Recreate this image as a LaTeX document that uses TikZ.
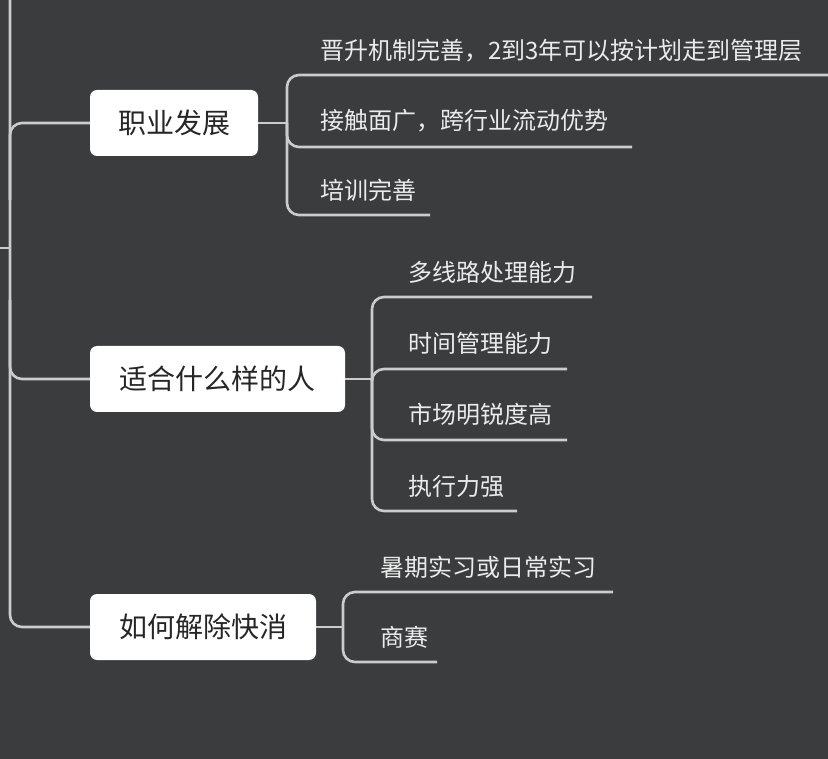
\documentclass[tikz,border=0pt]{standalone}
\usepackage{fontspec}
\setmainfont{Noto Sans CJK SC}
\begin{document}
\begin{tikzpicture}[x=1pt,y=-1pt,
  topic/.style={fill=white,rounded corners=7pt,minimum height=66pt,inner xsep=0pt,font=\fontsize{28}{32}\selectfont,text=black!85},
  leaf/.style={anchor=base west,inner sep=0pt,font=\fontsize{24}{28}\selectfont,text=white!92!black},
  conn/.style={draw=white!80!black,line width=2.6pt,rounded corners=12pt}]
\fill[fill={rgb,255:red,59;green,60;blue,61}] (0,0) rectangle (828,759);
\useasboundingbox (0,0) rectangle (828,759);
% topics
\node[topic,minimum width=168pt] (t1) at (174,123) {职业发展};
\node[topic,minimum width=255pt] (t2) at (217.5,379) {适合什么样的人};
\node[topic,minimum width=226pt] (t3) at (203,627) {如何解除快消};
% trunk
\coordinate (top) at (10,0);
\coordinate (stub) at (0,248);
\draw[conn] (top) -- (10,627) -- (t3.west);
\draw[conn] (10,200) -- (10,123) -- (t1.west);
\draw[conn] (10,300) -- (10,379) -- (t2.west);
\draw[conn] (stub) -- (10,248);
% leaves of t1
\node[leaf] (a1) at (320,60) {晋升机制完善，2到3年可以按计划走到管理层};
\node[leaf] (a2) at (320,130) {接触面广，跨行业流动优势};
\node[leaf] (a3) at (320,200) {培训完善};
\coordinate (a1e) at (828,75); \coordinate (a2e) at (632,147); \coordinate (a3e) at (430,215);
\draw[conn] (t1.east) -- (287,123);
\draw[conn] (287,123) -- (287,75) -- (a1e);
\draw[conn] (287,123) -- (287,147) -- (a2e);
\draw[conn] (287,123) -- (287,215) -- (a3e);
% leaves of t2
\node[leaf] (b1) at (408,282) {多线路处理能力};
\node[leaf] (b2) at (408,353) {时间管理能力};
\node[leaf] (b3) at (408,424) {市场明锐度高};
\node[leaf] (b4) at (408,495) {执行力强};
\coordinate (b1e) at (592,297); \coordinate (b2e) at (567,369);
\coordinate (b3e) at (567,440); \coordinate (b4e) at (517,511);
\draw[conn] (t2.east) -- (372,379);
\draw[conn] (372,379) -- (372,297) -- (b1e);
\draw[conn] (372,379) -- (372,369) -- (b2e);
\draw[conn] (372,379) -- (372,440) -- (b3e);
\draw[conn] (372,379) -- (372,511) -- (b4e);
% leaves of t3
\node[leaf] (c1) at (380,576) {暑期实习或日常实习};
\node[leaf] (c2) at (380,646) {商赛};
\coordinate (c1e) at (613,592); \coordinate (c2e) at (437,662);
\draw[conn] (t3.east) -- (343,627);
\draw[conn] (343,627) -- (343,592) -- (c1e);
\draw[conn] (343,627) -- (343,662) -- (c2e);
\end{tikzpicture}
\end{document}
